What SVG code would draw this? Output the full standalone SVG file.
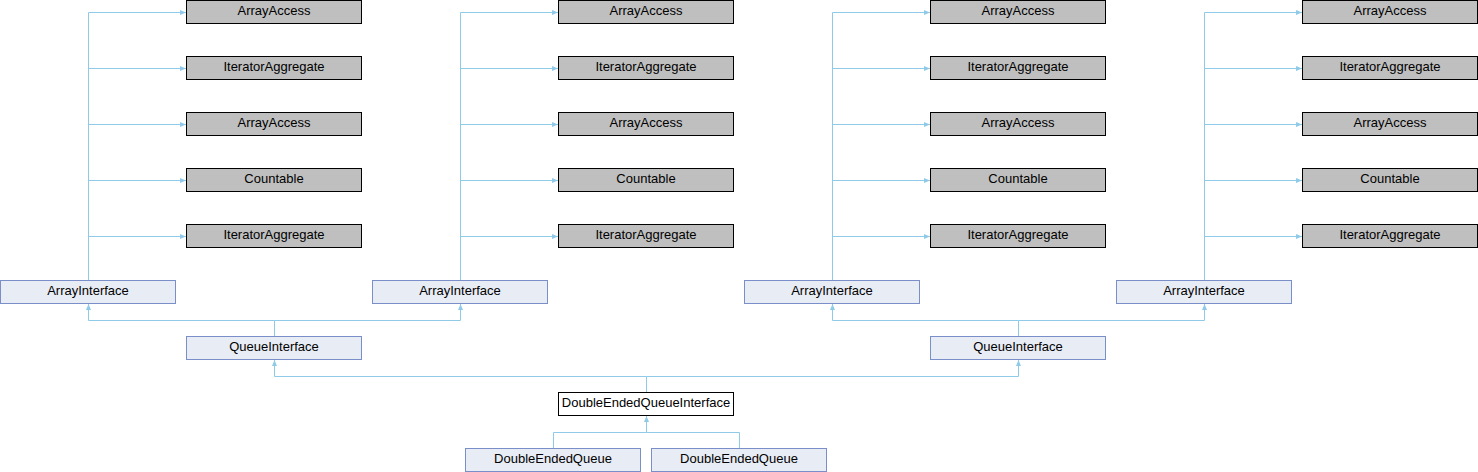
<svg xmlns="http://www.w3.org/2000/svg" width="1478" height="472" viewBox="0 0 1478 472">
<style>
.bg{fill:#ffffff}
.ext rect{fill:#bfbfbf;stroke:#000000;stroke-width:1}
.cls rect{fill:#e8ecf5;stroke:#7a8fc9;stroke-width:1}
.cur rect{fill:#ffffff;stroke:#000000;stroke-width:1}
text{font-family:"Liberation Sans",Arial,sans-serif;font-size:13px;fill:#000000;text-anchor:middle}
.edges path{fill:none;stroke:#8fcae9;stroke-width:1}
</style>
<defs>
<marker id="ar" viewBox="0 0 6 6" refX="6" refY="3" markerWidth="6" markerHeight="6" markerUnits="userSpaceOnUse" orient="auto">
<path d="M0,0.5 L6,3 L0,5.5 Z" fill="#8fcae9"/>
</marker>
</defs>
<rect class="bg" x="0" y="0" width="1478" height="472"/>
<g class="edges">
<!-- column 1 -->
<path d="M88.5,280 V12.5 H186" marker-end="url(#ar)"/>
<path d="M88.5,68.5 H186" marker-end="url(#ar)"/>
<path d="M88.5,124.5 H186" marker-end="url(#ar)"/>
<path d="M88.5,180.5 H186" marker-end="url(#ar)"/>
<path d="M88.5,236.5 H186" marker-end="url(#ar)"/>
<!-- column 2 -->
<path d="M460.5,280 V12.5 H558" marker-end="url(#ar)"/>
<path d="M460.5,68.5 H558" marker-end="url(#ar)"/>
<path d="M460.5,124.5 H558" marker-end="url(#ar)"/>
<path d="M460.5,180.5 H558" marker-end="url(#ar)"/>
<path d="M460.5,236.5 H558" marker-end="url(#ar)"/>
<!-- column 3 -->
<path d="M832.5,280 V12.5 H930" marker-end="url(#ar)"/>
<path d="M832.5,68.5 H930" marker-end="url(#ar)"/>
<path d="M832.5,124.5 H930" marker-end="url(#ar)"/>
<path d="M832.5,180.5 H930" marker-end="url(#ar)"/>
<path d="M832.5,236.5 H930" marker-end="url(#ar)"/>
<!-- column 4 -->
<path d="M1204.5,280 V12.5 H1302" marker-end="url(#ar)"/>
<path d="M1204.5,68.5 H1302" marker-end="url(#ar)"/>
<path d="M1204.5,124.5 H1302" marker-end="url(#ar)"/>
<path d="M1204.5,180.5 H1302" marker-end="url(#ar)"/>
<path d="M1204.5,236.5 H1302" marker-end="url(#ar)"/>
<!-- QueueInterface 1 -> ArrayInterfaces -->
<path d="M274.5,336 V320.5 H88.5 V304" marker-end="url(#ar)"/>
<path d="M274.5,320.5 H460.5 V304" marker-end="url(#ar)"/>
<!-- QueueInterface 2 -> ArrayInterfaces -->
<path d="M1018.5,336 V320.5 H832.5 V304" marker-end="url(#ar)"/>
<path d="M1018.5,320.5 H1204.5 V304" marker-end="url(#ar)"/>
<!-- DEQI -> QueueInterfaces -->
<path d="M646.5,392 V376.5 H274.5 V360" marker-end="url(#ar)"/>
<path d="M646.5,376.5 H1018.5 V360" marker-end="url(#ar)"/>
<!-- DEQ -> DEQI -->
<path d="M553.5,448 V432.5 H646.5 V416" marker-end="url(#ar)"/>
<path d="M739.5,448 V432.5 H646.5"/>
</g>
<!-- column 1 parents -->
<g id="c1_arrayaccess1" class="ext"><rect x="186.5" y="0.5" width="175" height="23"/><text x="274" y="15">ArrayAccess</text></g>
<g id="c1_iteratoraggregate1" class="ext"><rect x="186.5" y="56.5" width="175" height="23"/><text x="274" y="71">IteratorAggregate</text></g>
<g id="c1_arrayaccess2" class="ext"><rect x="186.5" y="112.5" width="175" height="23"/><text x="274" y="127">ArrayAccess</text></g>
<g id="c1_countable" class="ext"><rect x="186.5" y="168.5" width="175" height="23"/><text x="274" y="183">Countable</text></g>
<g id="c1_iteratoraggregate2" class="ext"><rect x="186.5" y="224.5" width="175" height="23"/><text x="274" y="239">IteratorAggregate</text></g>
<!-- column 2 parents -->
<g id="c2_arrayaccess1" class="ext"><rect x="558.5" y="0.5" width="175" height="23"/><text x="646" y="15">ArrayAccess</text></g>
<g id="c2_iteratoraggregate1" class="ext"><rect x="558.5" y="56.5" width="175" height="23"/><text x="646" y="71">IteratorAggregate</text></g>
<g id="c2_arrayaccess2" class="ext"><rect x="558.5" y="112.5" width="175" height="23"/><text x="646" y="127">ArrayAccess</text></g>
<g id="c2_countable" class="ext"><rect x="558.5" y="168.5" width="175" height="23"/><text x="646" y="183">Countable</text></g>
<g id="c2_iteratoraggregate2" class="ext"><rect x="558.5" y="224.5" width="175" height="23"/><text x="646" y="239">IteratorAggregate</text></g>
<!-- column 3 parents -->
<g id="c3_arrayaccess1" class="ext"><rect x="930.5" y="0.5" width="175" height="23"/><text x="1018" y="15">ArrayAccess</text></g>
<g id="c3_iteratoraggregate1" class="ext"><rect x="930.5" y="56.5" width="175" height="23"/><text x="1018" y="71">IteratorAggregate</text></g>
<g id="c3_arrayaccess2" class="ext"><rect x="930.5" y="112.5" width="175" height="23"/><text x="1018" y="127">ArrayAccess</text></g>
<g id="c3_countable" class="ext"><rect x="930.5" y="168.5" width="175" height="23"/><text x="1018" y="183">Countable</text></g>
<g id="c3_iteratoraggregate2" class="ext"><rect x="930.5" y="224.5" width="175" height="23"/><text x="1018" y="239">IteratorAggregate</text></g>
<!-- column 4 parents -->
<g id="c4_arrayaccess1" class="ext"><rect x="1302.5" y="0.5" width="175" height="23"/><text x="1390" y="15">ArrayAccess</text></g>
<g id="c4_iteratoraggregate1" class="ext"><rect x="1302.5" y="56.5" width="175" height="23"/><text x="1390" y="71">IteratorAggregate</text></g>
<g id="c4_arrayaccess2" class="ext"><rect x="1302.5" y="112.5" width="175" height="23"/><text x="1390" y="127">ArrayAccess</text></g>
<g id="c4_countable" class="ext"><rect x="1302.5" y="168.5" width="175" height="23"/><text x="1390" y="183">Countable</text></g>
<g id="c4_iteratoraggregate2" class="ext"><rect x="1302.5" y="224.5" width="175" height="23"/><text x="1390" y="239">IteratorAggregate</text></g>
<!-- ArrayInterfaces -->
<g id="arrayinterface1" class="cls"><rect x="0.5" y="280.5" width="175" height="23"/><text x="88" y="295">ArrayInterface</text></g>
<g id="arrayinterface2" class="cls"><rect x="372.5" y="280.5" width="175" height="23"/><text x="460" y="295">ArrayInterface</text></g>
<g id="arrayinterface3" class="cls"><rect x="744.5" y="280.5" width="175" height="23"/><text x="832" y="295">ArrayInterface</text></g>
<g id="arrayinterface4" class="cls"><rect x="1116.5" y="280.5" width="175" height="23"/><text x="1204" y="295">ArrayInterface</text></g>
<!-- QueueInterfaces -->
<g id="queueinterface1" class="cls"><rect x="186.5" y="336.5" width="175" height="23"/><text x="274" y="351">QueueInterface</text></g>
<g id="queueinterface2" class="cls"><rect x="930.5" y="336.5" width="175" height="23"/><text x="1018" y="351">QueueInterface</text></g>
<!-- DoubleEndedQueueInterface -->
<g id="doubleendedqueueinterface" class="cur"><rect x="558.5" y="392.5" width="175" height="23"/><text x="646" y="407">DoubleEndedQueueInterface</text></g>
<!-- DoubleEndedQueue -->
<g id="doubleendedqueue1" class="cls"><rect x="465.5" y="448.5" width="175" height="23"/><text x="553" y="463">DoubleEndedQueue</text></g>
<g id="doubleendedqueue2" class="cls"><rect x="651.5" y="448.5" width="175" height="23"/><text x="739" y="463">DoubleEndedQueue</text></g>
</svg>
